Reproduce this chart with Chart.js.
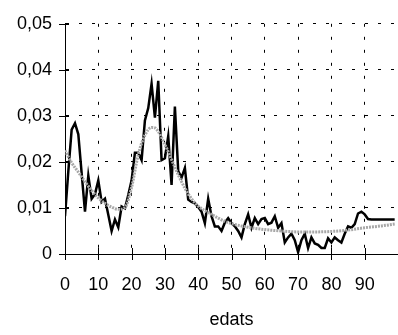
<!DOCTYPE html>
<html>
<head>
<meta charset="utf-8">
<script src="https://cdn.jsdelivr.net/npm/chart.js@4/dist/chart.umd.min.js"></script>
<style>
  body { margin: 0; background: #fff; }
</style>
</head>
<body>
<canvas id="chart" width="398" height="335"></canvas>
<script>
// edats 0..99, valors observats (línia negra)
const ages = [];
for (let a = 0; a <= 99; a++) ages.push(a);
const observed = [
  0.0082, 0.018, 0.027, 0.0284, 0.026, 0.0175, 0.0092, 0.017, 0.012, 0.013,
  0.016, 0.0113, 0.012, 0.0085, 0.005, 0.0075, 0.0058, 0.0103, 0.0099, 0.0128,
  0.016, 0.022, 0.022, 0.0204, 0.029, 0.0317, 0.037, 0.0296, 0.0376, 0.0204,
  0.0208, 0.0256, 0.015, 0.032, 0.018, 0.0166, 0.0187, 0.0118, 0.0113, 0.011,
  0.0102, 0.0092, 0.0067, 0.012, 0.0082, 0.006, 0.006, 0.005, 0.0068, 0.0078,
  0.0067, 0.006, 0.005, 0.0036, 0.0065, 0.0086, 0.0057, 0.0078, 0.0065, 0.0076,
  0.0078, 0.0065, 0.0068, 0.0082, 0.0057, 0.0067, 0.0025, 0.0036, 0.0044, 0.003,
  0.0004, 0.003, 0.0044, 0.0013, 0.0036, 0.0023, 0.002, 0.0013, 0.0013, 0.0034,
  0.0025, 0.0036, 0.003, 0.0025, 0.0044, 0.006, 0.0057, 0.0065, 0.0088, 0.0092,
  0.0086, 0.0076, 0.0075, 0.0075, 0.0075, 0.0075, 0.0075, 0.0075, 0.0075, 0.0075
];

// corba suavitzada (línia grisa)
const smoothAges = [0, 2, 4, 6, 8, 10, 12, 14, 16, 18, 20, 22, 24, 26, 27, 28, 30, 32, 34, 36,
  38, 40, 42, 44, 46, 48, 50, 55, 60, 65, 70, 75, 80, 85, 90, 95, 99];
const smoothed = [0.0225, 0.0198, 0.0178, 0.0157, 0.0138, 0.0122, 0.011, 0.0102, 0.0097, 0.0101,
  0.0145, 0.0216, 0.0258, 0.0275, 0.0274, 0.0266, 0.0238, 0.0205, 0.0172, 0.0143,
  0.012, 0.0104, 0.0094, 0.0086, 0.0078, 0.0071, 0.0066, 0.0058, 0.0053, 0.005,
  0.0048, 0.0048, 0.0049, 0.0052, 0.0057, 0.0061, 0.0065];

const xTicks = [0, 10, 20, 30, 40, 50, 60, 70, 80, 90];
const yTicks = [0, 0.01, 0.02, 0.03, 0.04, 0.05];

const font = { family: "'Liberation Sans', Arial, sans-serif", size: 18 };

// marques dels eixos que creuen la línia de l'eix
const crossTicks = {
  id: "crossTicks",
  afterDraw(chart) {
    const ctx = chart.ctx;
    const xs = chart.scales.x, ys = chart.scales.y;
    const area = chart.chartArea;
    ctx.save();
    ctx.strokeStyle = "#000";
    ctx.lineWidth = 1;
    ctx.beginPath();
    xTicks.forEach(v => {
      const px = Math.round(xs.getPixelForValue(v)) + 0.5;
      ctx.moveTo(px, area.bottom - 6);
      ctx.lineTo(px, area.bottom + 6);
    });
    yTicks.forEach(v => {
      const py = Math.round(ys.getPixelForValue(v)) + 0.5;
      ctx.moveTo(area.left - 6, py);
      ctx.lineTo(area.left + 4, py);
    });
    ctx.stroke();
    ctx.restore();
  }
};

new Chart(document.getElementById("chart"), {
  type: "line",
  data: {
    datasets: [
      {
        label: "suavitzat",
        data: smoothAges.map((a, i) => ({ x: a, y: smoothed[i] })),
        borderColor: "#a8a8a8",
        borderWidth: 3,
        borderDash: [2, 1],
        pointRadius: 0,
        tension: 0.4,
        cubicInterpolationMode: "monotone",
        order: 0
      },
      {
        label: "observat",
        data: ages.map((a, i) => ({ x: a, y: observed[i] })),
        borderColor: "#000",
        borderWidth: 2.5,
        pointRadius: 0,
        tension: 0,
        order: 1
      }
    ]
  },
  options: {
    responsive: false,
    animation: false,
    devicePixelRatio: 1,
    layout: { padding: { top: 16, right: 0, left: 0, bottom: 0 } },
    plugins: { legend: { display: false }, tooltip: { enabled: false } },
    scales: {
      x: {
        type: "linear",
        min: 0,
        max: 100,
        afterBuildTicks: s => { s.ticks = xTicks.map(v => ({ value: v })); },
        afterFit: s => { s.height = 81; },
        ticks: { font: font, color: "#000", padding: 20, maxRotation: 0 },
        grid: { color: "#000", lineWidth: 1, drawTicks: false },
        border: { display: true, color: "#000", width: 1, dash: [3, 10] },
        title: { display: true, text: "edats", font: font, color: "#000", padding: { top: 0, bottom: 4 } }
      },
      y: {
        min: 0,
        max: 0.05,
        afterBuildTicks: s => { s.ticks = yTicks.map(v => ({ value: v })); },
        afterFit: s => { s.width = 65; },
        ticks: {
          font: font,
          color: "#000",
          padding: 13,
          callback: v => v === 0 ? "0" : v.toFixed(2).replace(".", ",")
        },
        grid: { color: "#000", lineWidth: 1, drawTicks: false },
        border: { display: true, color: "#000", width: 1, dash: [3, 10] }
      }
    }
  },
  plugins: [crossTicks]
});
</script>
</body>
</html>
